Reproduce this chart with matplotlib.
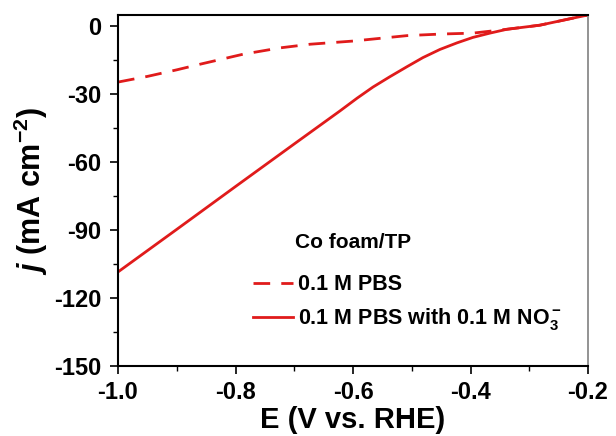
import matplotlib
matplotlib.use("Agg")
import matplotlib.pyplot as plt
from matplotlib.ticker import MultipleLocator

plt.rcParams['font.family'] = ['Liberation Sans', 'DejaVu Sans']
plt.rcParams['font.weight'] = 'bold'
plt.rcParams['mathtext.fontset'] = 'custom'
plt.rcParams['mathtext.rm'] = 'Liberation Sans:bold'
plt.rcParams['mathtext.it'] = 'Liberation Sans:bold:italic'
plt.rcParams['mathtext.bf'] = 'Liberation Sans:bold'
plt.rcParams['mathtext.default'] = 'bf'

# LSV curves, E (V vs. RHE) and j (mA cm-2)
E_pbs = [-1.0, -0.95, -0.9, -0.86, -0.787, -0.724, -0.673, -0.6, -0.508,
         -0.45, -0.396, -0.338, -0.282, -0.226, -0.202]
j_pbs = [-24.7, -22.2, -19.3, -16.8, -12.4, -9.6, -8.0, -6.6, -4.2,
         -3.5, -3.1, -1.4, 0.4, 3.5, 4.8]

E_no3 = [-1.0, -0.9, -0.8, -0.7, -0.622, -0.593, -0.566, -0.537, -0.508,
         -0.481, -0.452, -0.423, -0.396, -0.367, -0.338, -0.282, -0.226,
         -0.202]
j_no3 = [-108.5, -89.7, -70.8, -52.0, -37.4, -31.8, -26.9, -22.3, -17.9,
         -13.9, -10.3, -7.4, -5.0, -3.1, -1.4, 0.4, 3.5, 4.8]

red = '#e01b1b'

fig = plt.figure(figsize=(6.16, 4.36), dpi=100, facecolor='w')
ax = fig.add_axes([118 / 616, 1 - 366 / 436, 470 / 616, 351 / 436])

ax.plot(E_pbs, j_pbs, ls=(0, (6, 4)), c=red, lw=2, label='0.1 M PBS')
ax.plot(E_no3, j_no3, ls='-', c=red, lw=2,
        label='0.1 M PBS with 0.1 M NO$_3^-$')

ax.set_xlim(-1.0, -0.2)
ax.set_ylim(-150, 4.9)
ax.xaxis.set_minor_locator(MultipleLocator(0.1))
ax.yaxis.set_minor_locator(MultipleLocator(15))
ax.set_xticks([-1.0, -0.8, -0.6, -0.4, -0.2])
ax.set_xticklabels(['-1.0', '-0.8', '-0.6', '-0.4', '-0.2'],
                   fontweight='bold')
ax.set_yticks([0, -30, -60, -90, -120, -150])
ax.set_yticklabels(['0', '-30', '-60', '-90', '-120', '-150'],
                   fontweight='bold')
ax.tick_params(which='major', direction='out', length=6, width=1.2,
               labelsize=17, top=False, right=False)
ax.tick_params(axis='y', which='major', pad=6)
ax.tick_params(axis='x', which='major', pad=5)
ax.tick_params(which='minor', direction='out', length=3.5, width=1.0,
               top=False, right=False)

for s in ['left', 'bottom', 'top']:
    ax.spines[s].set_linewidth(1.5)
    ax.spines[s].set_color('black')
ax.spines['right'].set_color('#808080')
ax.spines['right'].set_linewidth(1.2)

ax.set_xlabel('E (V vs. RHE)', fontsize=21, fontweight='bold', labelpad=1)
ax.set_ylabel('$\\mathit{j}$ (mA cm$^{-2}$)', fontsize=22,
              fontweight='bold', labelpad=3)

ax.text(0.377, 0.336, 'Co foam/TP', transform=ax.transAxes, fontsize=15,
        fontweight='bold')
leg = ax.legend(loc='lower left', bbox_to_anchor=(0.268, 0.072), frameon=False,
                fontsize=15.5, handlelength=1.9, handletextpad=0.2,
                labelspacing=0.5, borderaxespad=0)
for t in leg.get_texts():
    t.set_fontweight('bold')

plt.savefig('out.png', dpi=100, facecolor='w')
